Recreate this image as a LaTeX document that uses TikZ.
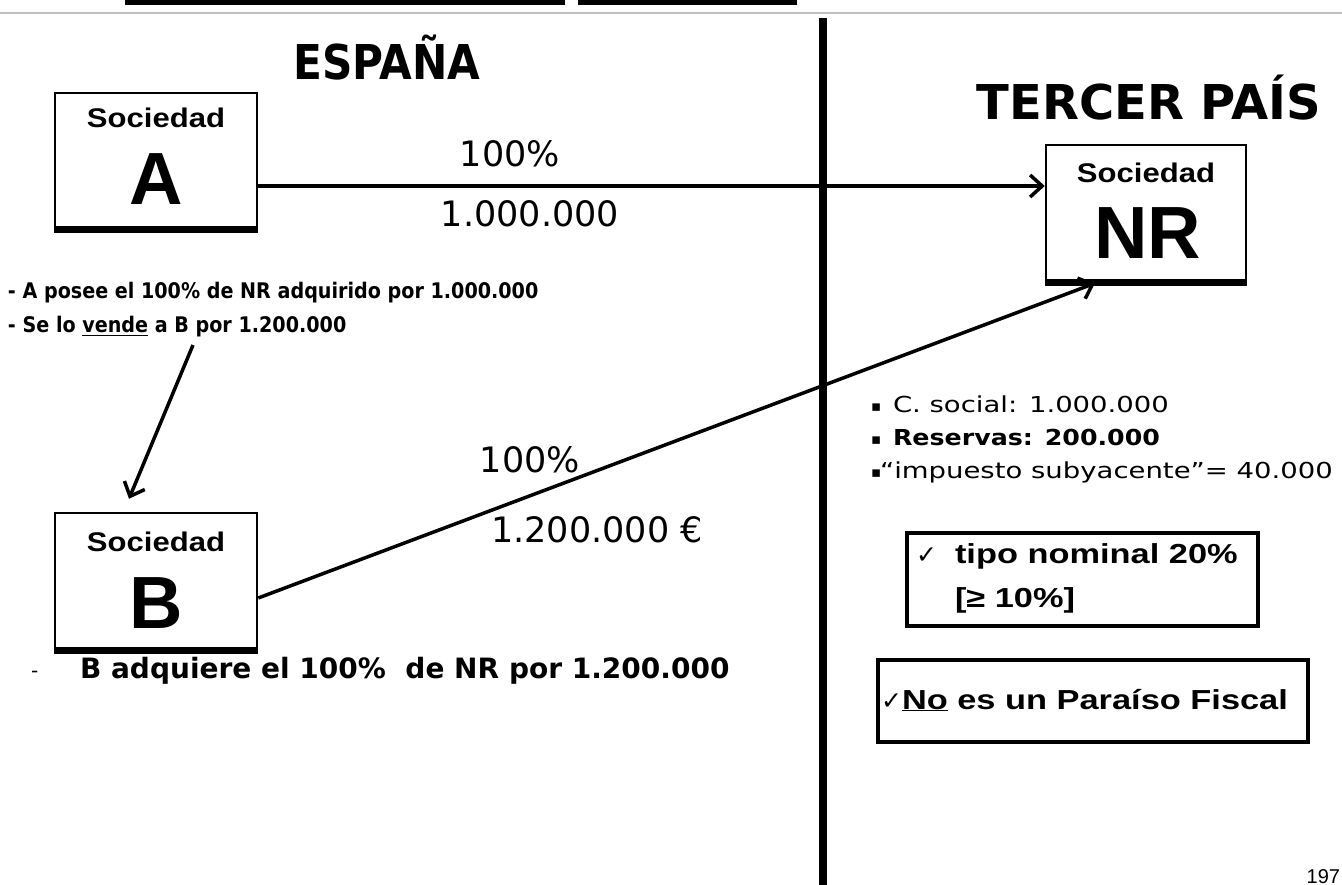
\documentclass[tikz,border=0pt]{standalone}
\usepackage{fontspec}
\setmainfont{DejaVu Sans}
\newfontfamily\ar{Liberation Sans}
\newfontfamily\arw{Liberation Sans}[FakeStretch=1.25]
\newfontfamily\arm{Liberation Sans}[FakeStretch=1.15]
\newfontfamily\dv{DejaVu Sans}
\newfontfamily\dvw{DejaVu Sans}[FakeStretch=1.25]
\newfontfamily\dvb{DejaVu Sans}[FakeStretch=1.15]
\usetikzlibrary{arrows.meta}
\tikzset{
  txt/.style={inner sep=0pt, outer sep=0pt},
  cbox/.style={draw, line width=2.5pt, minimum width=202pt, minimum height=134pt, inner sep=0pt},
  shadowline/.style={line width=6pt},
  fbox/.style={draw, line width=4pt, inner sep=0pt},
  arr/.style={line width=3.5pt, -{Straight Barb[length=12pt,width=22pt,line width=3.5pt]}},
  soc/.style={txt, font=\arm\bfseries\fontsize{27}{31}\selectfont},
  big/.style={txt, font=\ar\bfseries\fontsize{74}{78}\selectfont},
  title/.style={txt, font=\bfseries\fontsize{48}{52}\selectfont},
  amount/.style={txt, font=\fontsize{35}{40}\selectfont},
  note/.style={txt, anchor=base west, font=\bfseries\fontsize{21.5}{26}\selectfont},
  bul/.style={txt, anchor=base west, font=\dvw\fontsize{22}{26}\selectfont},
  bmark/.style={txt, anchor=base west, font=\dv\fontsize{15}{18}\selectfont},
  chk/.style={txt, anchor=base west, font=\arw\bfseries\fontsize{27.5}{32}\selectfont},
  tick/.style={txt, anchor=base west, font=\dv\fontsize{25}{30}\selectfont},
}
\begin{document}
\begin{tikzpicture}[x=1pt,y=-1pt]
\useasboundingbox (0,0) rectangle (1342,885);
\fill[white] (0,0) rectangle (1342,885);
% top decoration
\fill[black] (125,0) rectangle (565,5);
\fill[black] (578,0) rectangle (797,5);
\draw[black!25, line width=1.5pt] (0,13) -- (1342,13);
% divider
\draw[line width=8pt] (823,18) -- (823,885);

% titles
\node[title, anchor=base] (esp) at (387,80) {\scalebox{0.88}[1]{ESPAÑA}};
\node[title, anchor=base] (ter) at (1149,120) {TERCER PAÍS};

% company boxes
\node[cbox] (A) at (156,160) {};
\draw[shadowline] ([yshift=-1.5pt]A.south west) -- ([yshift=-1.5pt]A.south east);
\node[soc, anchor=base] (Asoc) at (156,128) {Sociedad};
\node[big, anchor=base] (Alet) at (156,205) {A};

\node[cbox, minimum width=200pt, minimum height=135pt] (NR) at (1146,212.5) {};
\draw[shadowline] ([yshift=-1.5pt]NR.south west) -- ([yshift=-1.5pt]NR.south east);
\node[soc, anchor=base] (NRsoc) at (1146,183) {Sociedad};
\node[big, anchor=base] (NRlet) at (1148,259) {NR};

\node[cbox, minimum height=135pt] (B) at (156,580.5) {};
\draw[shadowline] ([yshift=-1.5pt]B.south west) -- ([yshift=-1.5pt]B.south east);
\node[soc, anchor=base] (Bsoc) at (156,551) {Sociedad};
\node[big, anchor=base] (Blet) at (156,628) {B};

% amounts
\node[amount, anchor=base] (p1) at (510,167) {100\%};
\node[amount, anchor=base] (m1) at (530,227) {1.000.000};
\node[amount, anchor=base] (p2) at (530,472) {100\%};
\node[amount, anchor=base] (m2) at (597,542) {1.200.000 €};

% notes left
\node[note] (n1) at (8,299) {\scalebox{0.89}[1]{- A posee el 100\% de NR adquirido por 1.000.000}};
\node[note] (n2) at (8,333) {\scalebox{0.89}[1]{- Se lo \underline{vende} a B por 1.200.000}};
\coordinate (vd) at (193,345);
\node[txt, anchor=base west, font=\fontsize{20}{24}\selectfont] (dash) at (31,677) {-};
\node[note, font=\bfseries\fontsize{28}{32}\selectfont] (n3) at (80,678) {B adquiere el 100\%\ \ de NR por 1.200.000};

% bullets
\node[bmark] (q1) at (871,411) {▪};
\node[bul] (b1) at (893,412) {C. social: 1.000.000};
\node[bmark] (q2) at (871,444) {▪};
\node[bul, font=\dvb\bfseries\fontsize{22}{26}\selectfont] (b2) at (893,445) {Reservas: 200.000};
\node[bmark] (q3) at (871,477) {▪};
\node[bul] (b3) at (880,478) {“impuesto subyacente”= 40.000};

% condition boxes
\node[fbox, minimum width=351pt, minimum height=93pt] (tipo) at (1082.5,579.5) {};
\node[tick] (ck1) at (916,563) {✓};
\node[chk] (t1) at (955,563) {tipo nominal 20\%};
\node[chk] (t2) at (955,607) {[≥ 10\%]};

\node[fbox, minimum width=430pt, minimum height=82pt] (para) at (1093,701) {};
\node[tick] (ck2) at (881,709) {✓};
\node[chk] (t3) at (902,709) {\underline{No} es un Paraíso Fiscal};

% page number
\node[txt, anchor=base east, font=\ar\fontsize{20}{24}\selectfont] (pg) at (1340,883) {197};

% connectors
\draw[arr] ([yshift=-26pt]A.east) -- ([yshift=26.5pt]NR.west);
\draw[arr] ([yshift=-17.5pt]B.east) -- ([xshift=-51pt,yshift=-2pt]NR.south);
\draw[arr] (vd) -- ([xshift=-27pt,yshift=13pt]B.north);
\end{tikzpicture}
\end{document}
